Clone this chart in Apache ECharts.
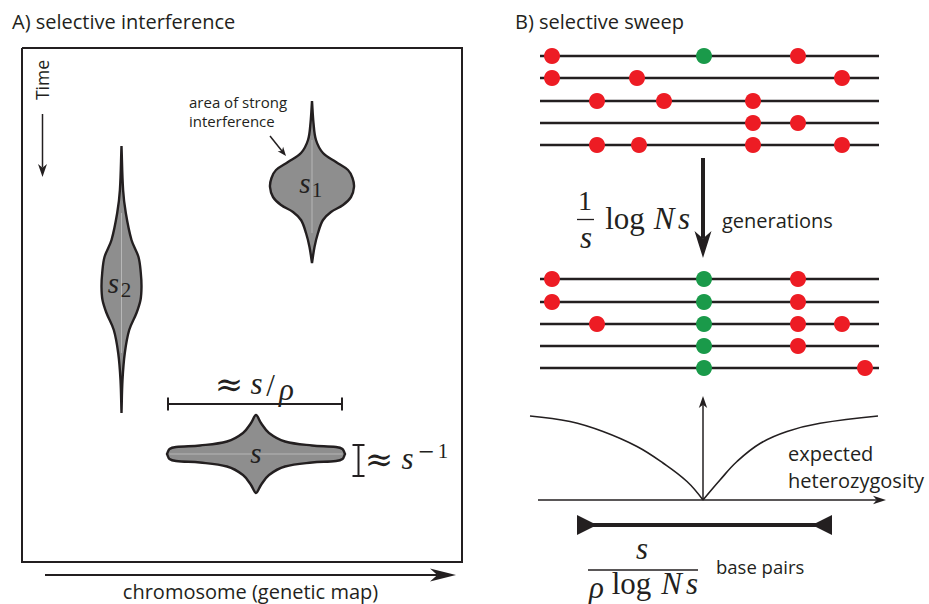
<!DOCTYPE html>
<html><head><meta charset="utf-8">
<script src="https://cdn.jsdelivr.net/npm/echarts@6/dist/echarts.min.js"></script>
<style>html,body{margin:0;padding:0;background:#fff}#c{width:929px;height:604px}</style>
</head><body><div id="c"></div><script>
// ---------------- data (diagram coordinates) ----------------
const titleA = 'A) selective interference';
const titleB = 'B) selective sweep';
const timeLabel = 'Time';
const chromosomeLabel = 'chromosome (genetic map)';
const interferenceLabel = ['area of strong', 'interference'];
const generationsLabel = 'generations';
const heteroLabel = ['expected', 'heterozygosity'];
const basePairsLabel = 'base pairs';

// violin profiles: [position along main axis, half width]
const violinS1 = [[101,0],[123,1.5],[140,4],[153,11],[162,24],[170,36],[178,40.5],[187,42],[197,39],[205,31],[212,19],[220,11],[233,6],[247,2.5],[263,0]];
const violinS2 = [[146,0],[190,1.6],[213,4.3],[240,10],[257,17],[273,19.3],[287,20],[300,19],[313,15],[330,7.7],[353,3.3],[380,1],[413,0]];
const violinS  = [[167,0],[169.5,5],[176,7],[200,8.5],[227,12.5],[243,21],[251,31],[256,39],[261,31],[269,21],[285,12.5],[312,8.5],[336,7],[342.5,5],[345,0]];

// haplotypes before / after the sweep
const rowsBefore = [56, 78, 101, 123, 145];
const redBefore = [[552, 798], [552, 637, 842], [597, 664, 753], [753, 798], [597, 639, 753, 842]];
const greenBefore = [[704], [], [], [], []];
const rowsAfter = [279, 302, 324, 346, 368];
const redAfter = [[552, 798], [552, 798], [597, 798, 842], [798], [865]];
const greenAfter = [[704], [704], [704], [704], [704]];
const chromStart = 540, chromEnd = 879;

// expected heterozygosity curve around the sweep site
const hetLeft  = [[530,416],[570,421.5],[603,431.5],[637,446.5],[663,463],[687,481.5],[703,500]];
const hetRight = [[703,500],[720,480],[737,461.5],[760,443.5],[787,431.5],[820,423.3],[878,416]];

// ---------------- styling ----------------
const INK = '#231f20';
const RED = '#ed1c24';
const GREEN = '#1a9a4a';
const GREY = '#8e8e8e';
const SANS = "'Open Sans','Noto Sans',sans-serif";
const SERIF = "'Liberation Serif','DejaVu Serif',serif";
const SYM = "'DejaVu Serif','Liberation Serif',serif";
const MS = 31; // math font size

function C(api, p) { return api.coord(p); }
function seg(api, a, b, w, color) {
  const p = C(api, a), q = C(api, b);
  return {type: 'line', shape: {x1: p[0], y1: p[1], x2: q[0], y2: q[1]}, style: {stroke: color || INK, lineWidth: w}};
}
function arrow(api, from, to, w, hl, hw) {
  const a = C(api, from), b = C(api, to);
  const dx = b[0]-a[0], dy = b[1]-a[1], L = Math.hypot(dx, dy), ux = dx/L, uy = dy/L, px = -uy, py = ux;
  const back = [b[0]-ux*hl, b[1]-uy*hl], notch = [b[0]-ux*hl*0.72, b[1]-uy*hl*0.72];
  return [
    {type: 'line', shape: {x1: a[0], y1: a[1], x2: notch[0], y2: notch[1]}, style: {stroke: INK, lineWidth: w}},
    {type: 'polygon', shape: {points: [b, [back[0]+px*hw, back[1]+py*hw], notch, [back[0]-px*hw, back[1]-py*hw]]}, style: {fill: INK}}
  ];
}
function txt(api, p, text, size, opt) {
  opt = opt || {};
  const c = C(api, p);
  return {type: 'text', x: c[0], y: c[1], rotation: opt.rot || 0,
    style: {text: text, fontFamily: opt.family || SANS, fontSize: size,
      fontStyle: opt.italic ? 'italic' : 'normal', fill: INK, align: opt.align || 'center', verticalAlign: 'middle'}};
}
function mi(api, p, text, size) { return txt(api, p, text, size || MS, {family: SERIF, italic: true}); }
function mr(api, p, text, size) { return txt(api, p, text, size || MS, {family: SERIF}); }
function violin(api, prof, center, vertical) {
  const side1 = [], side2 = [];
  prof.forEach(function (d) {
    if (vertical) { side1.push(C(api, [center + d[1], d[0]])); side2.push(C(api, [center - d[1], d[0]])); }
    else { side1.push(C(api, [d[0], center - d[1]])); side2.push(C(api, [d[0], center + d[1]])); }
  });
  const pts = side1.concat(side2.reverse());
  const inner = prof.filter(function (d) { return d[1] > 3; });
  const a = inner[0][0], b = inner[inner.length-1][0];
  const mid = vertical ? seg(api, [center, a], [center, b], 0.8, '#c2c2c2') : seg(api, [a, center], [b, center], 0.8, '#c2c2c2');
  return [
    {type: 'polygon', shape: {points: pts, smooth: 0.35}, style: {fill: GREY, stroke: null}},
    mid,
    {type: 'polygon', shape: {points: pts, smooth: 0.35}, style: {fill: 'none', stroke: INK, lineWidth: 2.4}}
  ];
}

function drawPanelA(params, api) {
  const ch = [];
  ch.push({type: 'polyline', shape: {points: [[22,48],[462,48],[462,562],[22,562],[22,48]].map(function (p) { return C(api, p); })},
    style: {fill: 'none', stroke: INK, lineWidth: 2}});
  ch.push(txt(api, [12, 21], titleA, 20, {align: 'left'}));
  ch.push(txt(api, [42, 80], timeLabel, 17.5, {rot: Math.PI/2}));
  ch.push.apply(ch, arrow(api, [42.5, 114], [42.5, 177], 1.5, 13, 4.5));
  ch.push.apply(ch, arrow(api, [45, 575], [456, 575], 2, 26, 6.5));
  ch.push(txt(api, [250.5, 591], chromosomeLabel, 20));
  ch.push.apply(ch, violin(api, violinS1, 312, true));
  ch.push.apply(ch, violin(api, violinS2, 121.5, true));
  ch.push.apply(ch, violin(api, violinS, 454, false));
  ch.push(txt(api, [189, 102], interferenceLabel[0], 15, {align: 'left'}));
  ch.push(txt(api, [189, 121], interferenceLabel[1], 15, {align: 'left'}));
  ch.push.apply(ch, arrow(api, [270, 136], [286, 156], 1.5, 9, 3.5));
  // labels in violins
  ch.push(mi(api, [305, 183], 's', 29));
  ch.push(mr(api, [317, 190], '1', 21));
  ch.push(mi(api, [113.5, 283], 's', 29));
  ch.push(mr(api, [126, 290], '2', 21));
  ch.push(mi(api, [256, 453], 's', 29));
  // brackets
  ch.push(seg(api, [168, 404], [342, 404], 2));
  ch.push(seg(api, [168, 397.5], [168, 410.5], 2));
  ch.push(seg(api, [342, 397.5], [342, 410.5], 2));
  ch.push(seg(api, [358.5, 445], [358.5, 476], 2));
  ch.push(seg(api, [352.5, 445], [364.5, 445], 2));
  ch.push(seg(api, [352.5, 476], [364.5, 476], 2));
  ch.push(txt(api, [229, 384], '≈', 34, {family: SYM}));
  ch.push(mi(api, [256.5, 383], 's'));
  ch.push(mr(api, [270.5, 385], '/'));
  ch.push(mi(api, [286.5, 389], 'ρ'));
  ch.push(txt(api, [379, 459], '≈', 34, {family: SYM}));
  ch.push(mi(api, [407.5, 458], 's'));
  ch.push(mr(api, [426.5, 451], '−', 28));
  ch.push(mr(api, [443, 451], '1', 21));
  return {type: 'group', children: ch};
}

function drawPanelB(params, api) {
  const ch = [];
  ch.push(txt(api, [515, 21], titleB, 20, {align: 'left'}));
  rowsBefore.concat(rowsAfter).forEach(function (y) { ch.push(seg(api, [chromStart, y], [chromEnd, y], 2.5)); });
  ch.push.apply(ch, arrow(api, [703, 158], [703, 258], 4, 27, 8.5));
  ch.push(mr(api, [585, 200], '1', 28));
  ch.push(seg(api, [577, 219.5], [594, 219.5], 1.3));
  ch.push(mi(api, [586, 237], 's'));
  ch.push(mr(api, [625, 218], 'log'));
  ch.push(mi(api, [664, 218], 'N'));
  ch.push(mi(api, [684, 218], 's'));
  ch.push(txt(api, [722, 220], generationsLabel, 20, {align: 'left'}));
  // heterozygosity axes
  ch.push.apply(ch, arrow(api, [538, 500], [886, 500], 1.5, 13, 4.2));
  ch.push.apply(ch, arrow(api, [703, 500], [703, 396], 1.5, 12, 4.2));
  ch.push(txt(api, [788, 453], heteroLabel[0], 20, {align: 'left'}));
  ch.push(txt(api, [788, 480], heteroLabel[1], 20, {align: 'left'}));
  // base-pair bar
  ch.push(seg(api, [590, 525], [820, 525], 4));
  ch.push({type: 'polygon', shape: {points: [[577,515],[577,535],[597,525]].map(function (p) { return C(api, p); })}, style: {fill: INK}});
  ch.push({type: 'polygon', shape: {points: [[832,515],[832,535],[812,525]].map(function (p) { return C(api, p); })}, style: {fill: INK}});
  ch.push(mi(api, [642, 548], 's'));
  ch.push(seg(api, [588, 570], [698, 570], 1.3));
  ch.push(mi(api, [596.5, 587], 'ρ'));
  ch.push(mr(api, [631.5, 583], 'log'));
  ch.push(mi(api, [671.5, 583], 'N'));
  ch.push(mi(api, [692, 583], 's'));
  ch.push(txt(api, [716, 566], basePairsLabel, 18.5, {align: 'left'}));
  return {type: 'group', children: ch};
}

function dots(rows, xs) {
  const out = [];
  xs.forEach(function (row, i) { row.forEach(function (x) { out.push([x, rows[i]]); }); });
  return out;
}

const chart = echarts.init(document.getElementById('c'), null, {renderer: 'svg'});
chart.setOption({
  animation: false,
  backgroundColor: '#ffffff',
  grid: {left: 0, right: 0, top: 0, bottom: 0, containLabel: false},
  xAxis: {type: 'value', min: 0, max: 929, show: false},
  yAxis: {type: 'value', min: 0, max: 604, inverse: true, show: false},
  series: [
    {type: 'custom', renderItem: drawPanelA, data: [[0, 0]], clip: false, silent: true, z: 1},
    {type: 'custom', renderItem: drawPanelB, data: [[0, 0]], clip: false, silent: true, z: 1},
    {type: 'line', data: hetLeft, smooth: 0.4, symbol: 'none', lineStyle: {color: INK, width: 1.6}, silent: true, z: 2},
    {type: 'line', data: hetRight, smooth: 0.4, symbol: 'none', lineStyle: {color: INK, width: 1.6}, silent: true, z: 2},
    {type: 'scatter', data: dots(rowsBefore, redBefore).concat(dots(rowsAfter, redAfter)), symbolSize: 16,
      itemStyle: {color: RED, opacity: 1}, silent: true, z: 5},
    {type: 'scatter', data: dots(rowsBefore, greenBefore).concat(dots(rowsAfter, greenAfter)), symbolSize: 16,
      itemStyle: {color: GREEN, opacity: 1}, silent: true, z: 5}
  ]
});
</script></body></html>
